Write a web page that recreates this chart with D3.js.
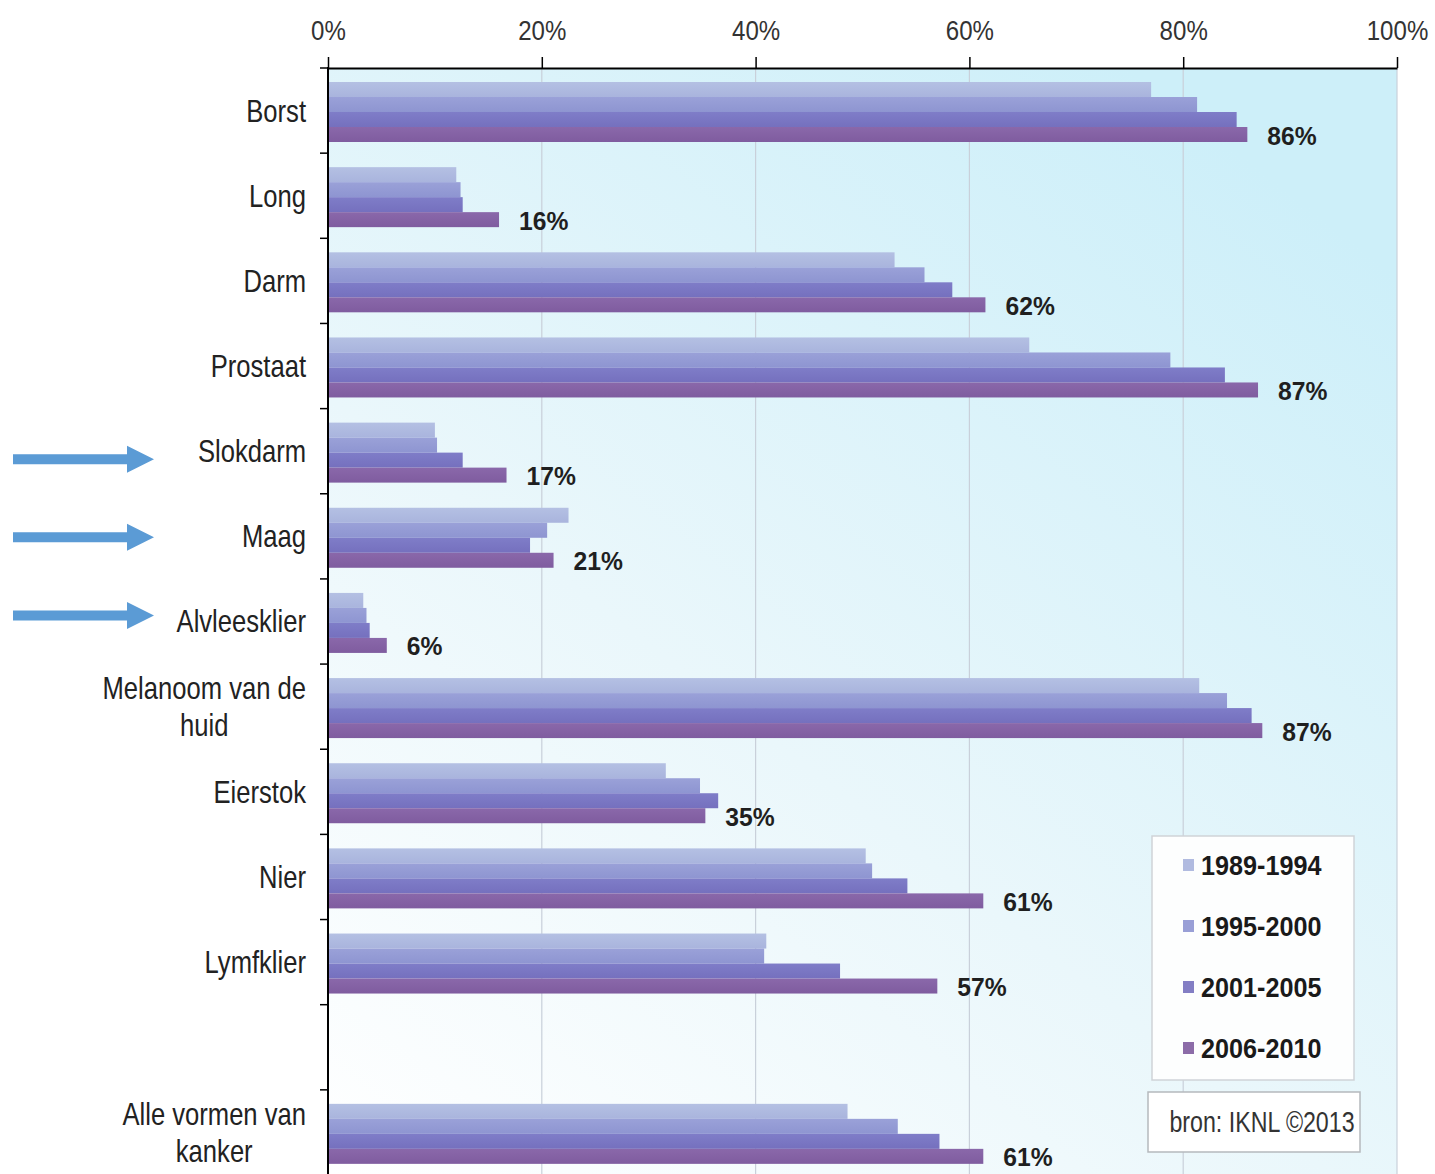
<!DOCTYPE html>
<html>
<head>
<meta charset="utf-8">
<script src="https://cdn.jsdelivr.net/npm/d3@7"></script>
<style>
  html, body { margin: 0; padding: 0; background: #ffffff; }
  svg { display: block; }
  text { font-family: "Liberation Sans", Arial, sans-serif; }
</style>
</head>
<body>
<svg id="chart" width="1435" height="1174"></svg>
<script>
// ---- data ----
const categories = ["Borst", "Long", "Darm", "Prostaat", "Slokdarm", "Maag", "Alvleesklier",
  "Melanoom van de huid", "Eierstok", "Nier", "Lymfklier", "", "Alle vormen van kanker"];
const categoryLines = [["Borst"], ["Long"], ["Darm"], ["Prostaat"], ["Slokdarm"], ["Maag"], ["Alvleesklier"],
  ["Melanoom van de", "huid"], ["Eierstok"], ["Nier"], ["Lymfklier"], [], ["Alle vormen van", "kanker"]];
const seriesNames = ["1989-1994", "1995-2000", "2001-2005", "2006-2010"];
const s1989 = [77, 12, 53, 65.6, 10, 22.5, 3.3, 81.5, 31.6, 50.3, 41, null, 48.6];
const s1995 = [81.3, 12.4, 55.8, 78.8, 10.2, 20.5, 3.6, 84.1, 34.8, 50.9, 40.8, null, 53.3];
const s2001 = [85, 12.6, 58.4, 83.9, 12.6, 18.9, 3.9, 86.4, 36.5, 54.2, 47.9, null, 57.2];
const s2006 = [86, 16, 61.5, 87, 16.7, 21.1, 5.5, 87.4, 35.3, 61.3, 57, null, 61.3];
const valueLabels = ["86%", "16%", "62%", "87%", "17%", "21%", "6%", "87%", "35%", "61%", "57%", "", "61%"];
const xTicks = [0, 20, 40, 60, 80, 100];
const highlighted = ["Slokdarm", "Maag", "Alvleesklier"];
const sourceText = "bron: IKNL  ©2013";

(function () {
const seriesValues = [s1989, s1995, s2001, s2006];
const colors = ["#a9b4dd", "#8e95d1", "#7570be", "#7f5c9f"];
const colorsTop = ["#b4c0e3", "#9aa1d8", "#7f7dc8", "#8a68aa"];

// ---- layout ----
const svg = d3.select("#chart");
const pL = 328, pR = 1397, pT = 68, pB = 1175;

const x = d3.scaleLinear().domain([0, 100]).range([pL, pR]);
const y = d3.scaleBand().domain(categories.map((c, i) => i)).range([pT, pB]);
const yInner = d3.scaleBand().domain(seriesNames).range([14, 74]);

const defs = svg.append("defs");
const bg = defs.append("linearGradient").attr("id", "bg")
  .attr("x1", "0").attr("y1", "1").attr("x2", "0.75").attr("y2", "0");
bg.append("stop").attr("offset", "0").attr("stop-color", "#ffffff");
bg.append("stop").attr("offset", "0.45").attr("stop-color", "#eaf7fb");
bg.append("stop").attr("offset", "1").attr("stop-color", "#cdeff9");

colors.forEach((c, i) => {
  const g = defs.append("linearGradient").attr("id", "bar" + i)
    .attr("x1", "0").attr("y1", "0").attr("x2", "0").attr("y2", "1");
  g.append("stop").attr("offset", "0").attr("stop-color", colorsTop[i]);
  g.append("stop").attr("offset", "1").attr("stop-color", c);
});

// plot background
svg.append("rect").attr("x", pL).attr("y", pT)
  .attr("width", pR - pL).attr("height", 1174 - pT)
  .attr("fill", "url(#bg)");

// gridlines
svg.append("g").selectAll("line").data(xTicks.filter(t => t > 0)).join("line")
  .attr("x1", d => x(d)).attr("x2", d => x(d))
  .attr("y1", pT).attr("y2", 1174)
  .attr("stroke", "#c9d0da").attr("stroke-width", 1.2);

// bars
const groups = svg.append("g").selectAll("g").data(categories.map((c, i) => i)).join("g")
  .attr("transform", i => `translate(0,${y(i)})`);

seriesNames.forEach((s, si) => {
  groups.filter(i => seriesValues[si][i] != null)
    .append("rect")
    .attr("x", pL)
    .attr("y", yInner(s))
    .attr("width", i => x(seriesValues[si][i]) - pL)
    .attr("height", yInner.bandwidth())
    .attr("fill", `url(#bar${si})`);
});

// value labels
groups.filter(i => valueLabels[i] !== "")
  .append("text")
  .attr("transform", i => `translate(${x(s2006[i]) + 20},${yInner(seriesNames[3]) + yInner.bandwidth() / 2 + 10}) scale(0.95,1)`)
  .attr("font-size", 26).attr("font-weight", "bold").attr("fill", "#1f1f1f")
  .text(i => valueLabels[i]);

// top axis
const xAxis = d3.axisTop(x).tickValues(xTicks).tickFormat(d => d + "%").tickSize(11).tickSizeOuter(0);
const gx = svg.append("g").attr("transform", `translate(0,${pT})`).call(xAxis);
gx.select(".domain").attr("stroke", "#000").attr("stroke-width", 2);
gx.selectAll(".tick line").attr("stroke", "#000").attr("stroke-width", 1.5);
gx.selectAll(".tick text")
  .attr("font-size", 28).attr("fill", "#333")
  .attr("font-family", "Liberation Sans, Arial, sans-serif")
  .attr("y", -28)
  .attr("transform", "scale(0.86,1)");

// left axis line + band ticks
svg.append("line").attr("x1", pL).attr("x2", pL).attr("y1", pT - 1).attr("y2", 1174)
  .attr("stroke", "#000").attr("stroke-width", 2);
svg.append("g").selectAll("line").data(categories.map((c, i) => i)).join("line")
  .attr("x1", pL - 8).attr("x2", pL)
  .attr("y1", i => y(i)).attr("y2", i => y(i))
  .attr("stroke", "#000").attr("stroke-width", 1.5);

// category labels
const labelRight = 306;
const lineH = 37;
groups.each(function(i) {
  const lines = categoryLines[i];
  if (!lines.length) return;
  const g = d3.select(this);
  const cy = y.bandwidth() / 2;
  const tg = g.append("g");
  const texts = lines.map((ln, k) => tg.append("text")
    .attr("font-size", 32).attr("fill", "#222")
    .attr("text-anchor", "middle")
    .attr("y", cy + (k - (lines.length - 1) / 2) * lineH + 11)
    .text(ln));
  const maxW = d3.max(texts, t => t.node().getComputedTextLength()) * 0.8;
  texts.forEach(t => t.attr("transform", `translate(${labelRight - maxW / 2},0) scale(0.8,1)`).attr("x", 0));
});

// arrows for highlighted categories (pointing at the category labels)
const arrowShape = "M0,-5 L114,-5 L114,-13.5 L141,0 L114,13.5 L114,5 L0,5 Z";
svg.append("g").selectAll("path").data(highlighted).join("path")
  .attr("d", arrowShape)
  .attr("transform", (c, k) => `translate(13,${y(categories.indexOf(c)) + y.bandwidth() / 2 + 8 - k * 7})`)
  .attr("fill", "#5b9bd5");

// legend
const lg = svg.append("g");
lg.append("rect").attr("x", 1152).attr("y", 836).attr("width", 202).attr("height", 244)
  .attr("fill", "#fdfefe").attr("stroke", "#cfd3d8").attr("stroke-width", 1.5);
const legendY = d3.scalePoint().domain(seriesNames).range([865, 1048]);
seriesNames.forEach((s, si) => {
  lg.append("rect").attr("x", 1183).attr("y", legendY(s) - 6).attr("width", 11).attr("height", 12)
    .attr("fill", colors[si]).attr("opacity", 0.9);
  lg.append("text").attr("transform", `translate(1201,${legendY(s) + 10}) scale(0.9,1)`)
    .attr("font-size", 28).attr("font-weight", "bold").attr("fill", "#1a1a1a")
    .text(s);
});

// source box
svg.append("rect").attr("x", 1148).attr("y", 1092).attr("width", 212).attr("height", 60)
  .attr("fill", "#ffffff").attr("stroke", "#b5b9bd").attr("stroke-width", 1.5);
svg.append("text").attr("transform", "translate(1262,1132) scale(0.8,1)")
  .attr("text-anchor", "middle").attr("font-size", 29).attr("fill", "#333")
  .text(sourceText);
})();
</script>
</body>
</html>
